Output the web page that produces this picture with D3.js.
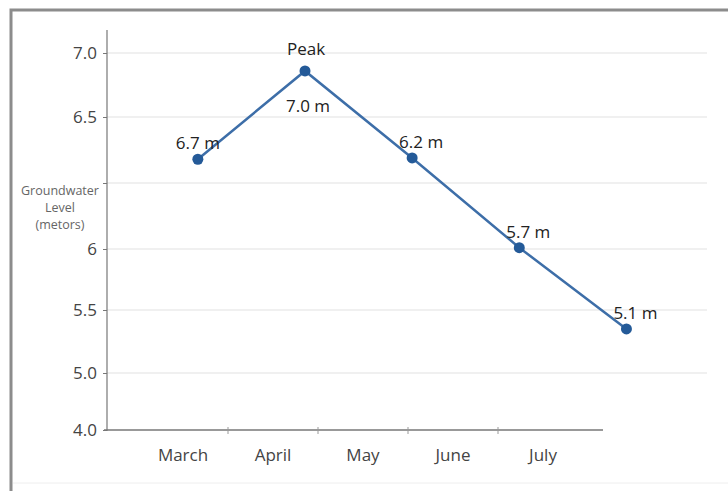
<!DOCTYPE html>
<html>
<head>
<meta charset="utf-8">
<script src="https://cdn.jsdelivr.net/npm/d3@7"></script>
<style>
  body { margin: 0; background: #fff; }
  svg text { font-family: "Open Sans", "Noto Sans", sans-serif; }
</style>
</head>
<body>
<div id="chart"></div>
<script>
// chart data
var months = ["March", "April", "May", "June", "July"];
var levels = [6.18, 6.86, 6.19, 5.51, 4.85];       // plotted position on the axis
var pointLabels = ["6.7 m", "7.0 m", "6.2 m", "5.7 m", "5.1 m"];
var tickValues = [4.0, 4.5, 5.0, 5.5, 6.0, 6.5, 7.0];
var tickLabels = ["4.0", "5.0", "5.5", "6", "", "6.5", "7.0"];
var yTitle = ["Groundwater", "Level", "(metors)"];

var width = 728, height = 491;

var svg = d3.select("#chart").append("svg")
  .attr("width", width)
  .attr("height", height);

// outer frame
svg.append("rect")
  .attr("x", 11).attr("y", 10)
  .attr("width", 760).attr("height", 520)
  .attr("fill", "#fff")
  .attr("stroke", "#8c8c8c")
  .attr("stroke-width", 3);
svg.append("line")
  .attr("x1", 13).attr("x2", width)
  .attr("y1", 483).attr("y2", 483)
  .attr("stroke", "#eeeeee");

// scales (the source axis is not evenly spaced, so map each tick)
var y = d3.scaleLinear()
  .domain(tickValues)
  .range([430, 373, 310, 249, 183, 117, 53]);
var xPts = d3.scalePoint().domain(months).range([107, 707]).padding(0.8).align(0.53);
var xBand = d3.scaleBand().domain(months).range([107, 603])
  .paddingInner(0).paddingOuter(0.2556).align(0.674);

// grid lines
svg.append("g").selectAll("line")
  .data(tickValues.slice(1))
  .enter().append("line")
  .attr("x1", 107).attr("x2", 707)
  .attr("y1", function(d) { return y(d); })
  .attr("y2", function(d) { return y(d); })
  .attr("stroke", "#ebebeb")
  .attr("stroke-width", 1.5);

// y axis
var yAxis = svg.append("g")
  .attr("transform", "translate(107,0)")
  .call(d3.axisLeft(y)
    .tickValues(tickValues)
    .tickSize(4)
    .tickPadding(6)
    .tickFormat(function(d, i) { return tickLabels[i]; }));
yAxis.select(".domain").remove();
yAxis.selectAll(".tick line").attr("stroke", "#777");
yAxis.selectAll(".tick text")
  .attr("fill", "#444")
  .style("font-size", "17px");
svg.append("line")
  .attr("x1", 107).attr("x2", 107)
  .attr("y1", 30).attr("y2", 431)
  .attr("stroke", "#777").attr("stroke-width", 1.2);

// y title
svg.append("text")
  .attr("text-anchor", "middle")
  .attr("fill", "#666")
  .style("font-size", "12.5px")
  .selectAll("tspan")
  .data(yTitle)
  .enter().append("tspan")
  .attr("x", 60)
  .attr("y", function(d, i) { return 195 + i * 17; })
  .text(function(d) { return d; });

// x axis
svg.append("line")
  .attr("x1", 104).attr("x2", 603)
  .attr("y1", 430).attr("y2", 430)
  .attr("stroke", "#777").attr("stroke-width", 1.5);
svg.append("g").selectAll("line")
  .data(months.slice(1))
  .enter().append("line")
  .attr("x1", function(d) { return xBand(d); })
  .attr("x2", function(d) { return xBand(d); })
  .attr("y1", 427).attr("y2", 434)
  .attr("stroke", "#999");
svg.append("g").selectAll("text")
  .data(months)
  .enter().append("text")
  .attr("x", function(d) { return xBand(d) + xBand.bandwidth() / 2; })
  .attr("y", 461)
  .attr("text-anchor", "middle")
  .attr("fill", "#444")
  .style("font-size", "17px")
  .text(function(d) { return d; });

// line
var pts = months.map(function(m, i) { return [xPts(m), y(levels[i])]; });
svg.append("path")
  .datum(pts)
  .attr("d", d3.line())
  .attr("fill", "none")
  .attr("stroke", "#3d6ea8")
  .attr("stroke-width", 2.5);

svg.append("g").selectAll("circle")
  .data(pts)
  .enter().append("circle")
  .attr("cx", function(d) { return d[0]; })
  .attr("cy", function(d) { return d[1]; })
  .attr("r", 5.5)
  .attr("fill", "#245a98");

// value labels
svg.append("g").selectAll("text")
  .data(pts)
  .enter().append("text")
  .attr("x", function(d, i) { return d[0] + (i === 0 ? 0 : i === 1 ? 3 : 9); })
  .attr("y", function(d, i) { return i === 1 ? d[1] + 41 : d[1] - 10; })
  .attr("text-anchor", "middle")
  .attr("fill", "#222")
  .style("font-size", "17px")
  .text(function(d, i) { return pointLabels[i]; });

svg.append("text")
  .attr("x", xPts("April") + 1)
  .attr("y", y(levels[1]) - 16)
  .attr("text-anchor", "middle")
  .attr("fill", "#222")
  .style("font-size", "17px")
  .text("Peak");
</script>
</body>
</html>
